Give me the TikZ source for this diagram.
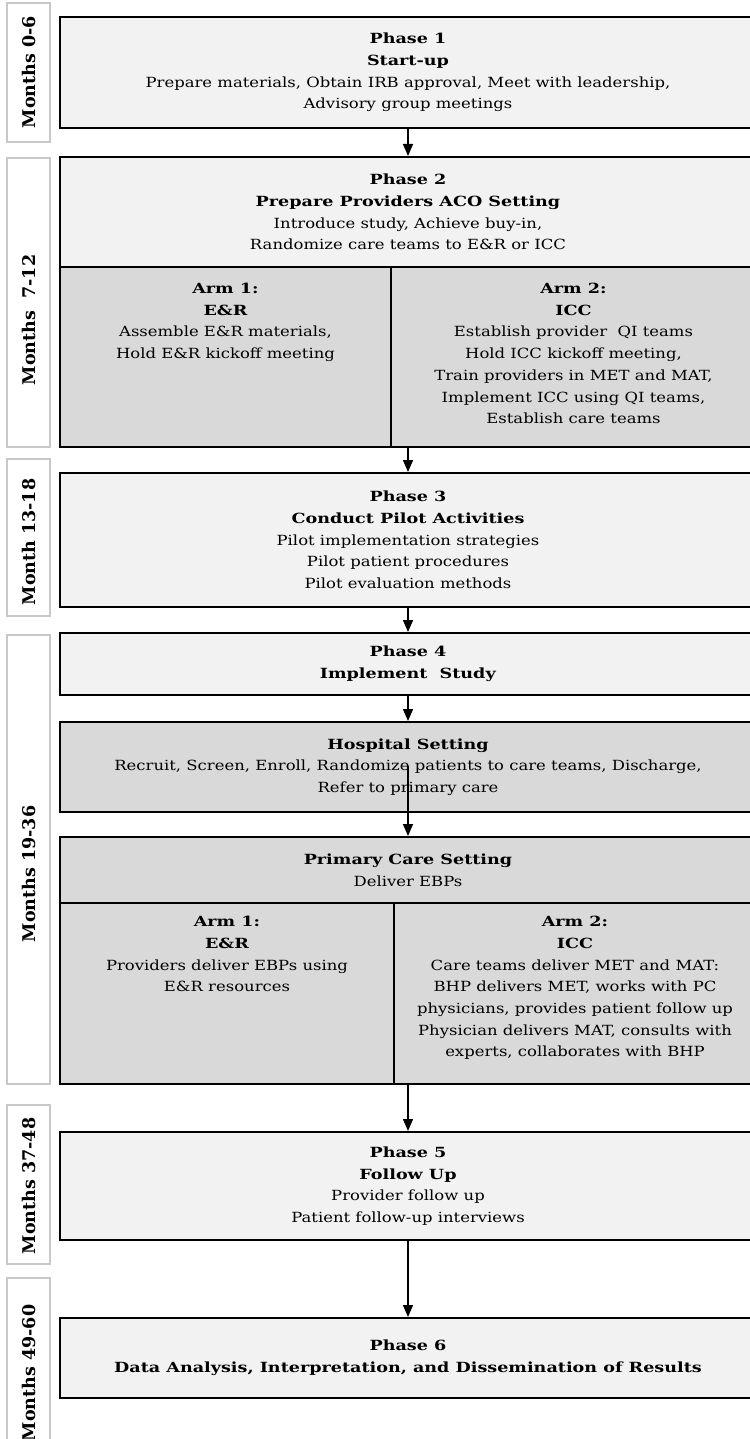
\documentclass[tikz,border=0pt]{standalone}
\usepackage{fontspec}
\setmainfont{DejaVu Serif}[FakeStretch=1.175, BoldFeatures={FakeStretch=1.255}]
\newfontfamily\monthfont{DejaVu Serif}
\usetikzlibrary{arrows.meta, positioning}

\definecolor{phasegray}{HTML}{F2F2F2}
\definecolor{armgray}{HTML}{D9D9D9}
\definecolor{labelgray}{HTML}{C8C8C8}

\begin{document}
\begin{tikzpicture}[x=1pt, y=-1pt,
    box/.style={draw, line width=2pt, inner sep=0pt, minimum width=696},
    phase/.style={box, fill=phasegray},
    arm/.style={draw, line width=2pt, inner sep=0pt, fill=armgray},
    txt/.style={align=center, font=\fontsize{14}{21.7}\selectfont},
    armtxt/.style={txt, inner sep=0pt},
    months/.style={draw=labelgray, line width=1.3pt, fill=white, inner sep=0pt, minimum width=43},
    mtxt/.style={rotate=90, inner sep=0pt, font=\monthfont\bfseries\fontsize{17.5}{20}\selectfont},
    flow/.style={-{Triangle[length=12pt,width=10pt]}, line width=1.4pt}]

    % page frame, the boxes run off the right and bottom edges
    \useasboundingbox (0,0) rectangle (749,1439);

    % time line on the left
    \foreach \name/\top/\bot/\mid/\lab in {m1/3/142/72/Months 0-6, m2/158/447/320/Months\ \ 7-12,
        m3/459/616/542/Month 13-18, m4/635/1084/874/Months 19-36,
        m5/1105/1264/1186/Months 37-48, m6/1278/1460/1373/Months 49-60}
    {
        \node[months, minimum height=\bot-\top] (\name) at (28.5,{(\top+\bot)/2}) {};
        \node[mtxt] (\name-t) at (28.5,\mid) {\lab};
    }

    % Phase 1
    \node[phase, txt, minimum height=111] (p1) at (408,72.5)
        {\textbf{Phase 1}\\\textbf{Start-up}\\Prepare materials, Obtain IRB approval, Meet with leadership,\\Advisory group meetings};

    % Phase 2 with its two arms
    \node[phase, txt, minimum height=110] (p2) at (408,212)
        {\textbf{Phase 2}\\\textbf{Prepare Providers ACO Setting}\\Introduce study, Achieve buy-in,\\Randomize care teams to E\&R or ICC};
    \node[arm, minimum width=331, minimum height=180] (p2arm1) at (225.5,357) {};
    \node[arm, minimum width=365, minimum height=180] (p2arm2) at (573.5,357) {};
    \node[armtxt, below=17pt of p2arm1.north] (p2arm1-t)
        {\textbf{Arm 1:}\\\textbf{E\&R}\\Assemble E\&R materials,\\Hold E\&R kickoff meeting};
    \node[armtxt, below=17pt of p2arm2.north] (p2arm2-t)
        {\textbf{Arm 2:}\\\textbf{ICC}\\Establish provider\ \ QI teams\\Hold ICC kickoff meeting,\\Train providers in MET and MAT,\\Implement ICC using QI teams,\\Establish care teams};

    % Phase 3
    \node[phase, txt, minimum height=134] (p3) at (408,540)
        {\textbf{Phase 3}\\\textbf{Conduct Pilot Activities}\\Pilot implementation strategies\\Pilot patient procedures\\Pilot evaluation methods};

    % Phase 4 and its settings
    \node[phase, txt, minimum height=62] (p4) at (408,664)
        {\textbf{Phase 4}\\\textbf{Implement\ \ Study}};
    \node[box, txt, fill=armgray, minimum height=90] (hs) at (408,767)
        {\textbf{Hospital Setting}\\Recruit, Screen, Enroll, Randomize patients to care teams, Discharge,\\Refer to primary care};
    \coordinate (hs-ref) at (408,766);
    \node[box, txt, fill=armgray, minimum height=66] (pc) at (408,870)
        {\textbf{Primary Care Setting}\\Deliver EBPs};
    \node[arm, minimum width=334, minimum height=181] (pcarm1) at (227,993.5) {};
    \node[arm, minimum width=362, minimum height=181] (pcarm2) at (575,993.5) {};
    \node[armtxt, below=14pt of pcarm1.north] (pcarm1-t)
        {\textbf{Arm 1:}\\\textbf{E\&R}\\Providers deliver EBPs using\\E\&R resources};
    \node[armtxt, below=14pt of pcarm2.north] (pcarm2-t)
        {\textbf{Arm 2:}\\\textbf{ICC}\\Care teams deliver MET and MAT:\\BHP delivers MET, works with PC\\physicians, provides patient follow up\\Physician delivers MAT, consults with\\experts, collaborates with BHP};

    % Phase 5 and 6
    \node[phase, txt, minimum height=108] (p5) at (408,1186)
        {\textbf{Phase 5}\\\textbf{Follow Up}\\Provider follow up\\Patient follow-up interviews};
    \node[phase, txt, minimum height=80] (p6) at (408,1358)
        {\textbf{Phase 6}\\\textbf{Data Analysis, Interpretation, and Dissemination of Results}};

    % arrows between the steps
    \draw[flow] (p1.south) -- (p2.north);
    \draw[flow] (p2arm2.south -| p3.north) -- (p3.north);
    \draw[flow] (p3.south) -- (p4.north);
    \draw[flow] (p4.south) -- (hs.north);
    \draw[flow] (hs-ref) -- (pc.north);
    \draw[flow] (pcarm2.south -| p5.north) -- (p5.north);
    \draw[flow] (p5.south) -- (p6.north);

\end{tikzpicture}
\end{document}
